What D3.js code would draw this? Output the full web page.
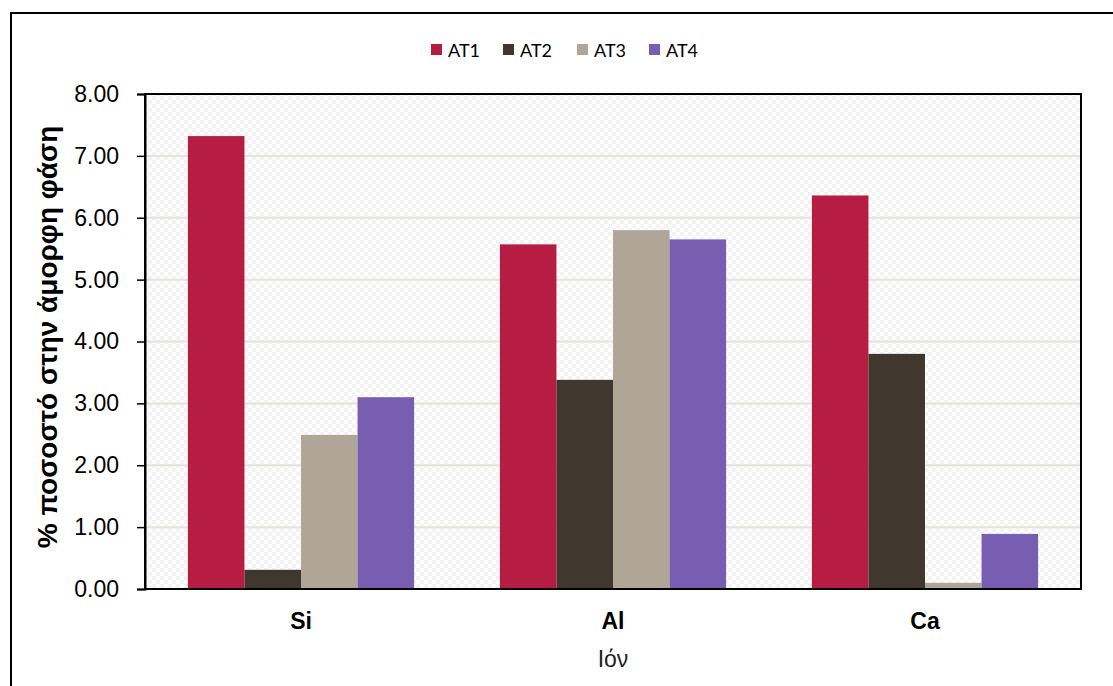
<!DOCTYPE html>
<html>
<head>
<meta charset="utf-8">
<script src="https://cdn.jsdelivr.net/npm/d3@7"></script>
<style>
  html, body { margin: 0; padding: 0; background: #fff; }
  svg { display: block; }
</style>
</head>
<body>
<svg id="chart" width="1113" height="686"></svg>
<script>
// Ions on the x axis and the amorphous-phase percentage per sample
const ions = ["Si", "Al", "Ca"];
const seriesNames = ["AT1", "AT2", "AT3", "AT4"];
const AT1 = [7.32, 5.57, 6.36];
const AT2 = [0.31, 3.38, 3.80];
const AT3 = [2.49, 5.80, 0.10];
const AT4 = [3.10, 5.65, 0.89];
const yTicks = [0, 1, 2, 3, 4, 5, 6, 7, 8];
const colors = ["#b71c43", "#40382f", "#b0a698", "#775eb0"];

const seriesValues = [AT1, AT2, AT3, AT4];

const svg = d3.select("#chart");
const W = 1113, H = 686;
const m = { left: 145, top: 94, right: 1081, bottom: 589 };

// outer frame
svg.append("rect")
  .attr("x", 11).attr("y", 13)
  .attr("width", W + 20).attr("height", H + 20)
  .attr("fill", "none").attr("stroke", "#000").attr("stroke-width", 2);

// faint checker fill for the plot area
const defs = svg.append("defs");
const pat = defs.append("pattern")
  .attr("id", "checker").attr("patternUnits", "userSpaceOnUse")
  .attr("width", 8).attr("height", 8);
pat.append("rect").attr("width", 8).attr("height", 8).attr("fill", "#fdfdfd");
pat.append("rect").attr("x", 0).attr("y", 0).attr("width", 4).attr("height", 4).attr("fill", "#f3f3f3");
pat.append("rect").attr("x", 4).attr("y", 4).attr("width", 4).attr("height", 4).attr("fill", "#f3f3f3");

const x0 = d3.scaleBand().domain(ions).range([m.left, m.right]).paddingInner(0).paddingOuter(0);
const groupW = x0.bandwidth() * 0.725;
const x1 = d3.scaleBand().domain(seriesNames).range([0, groupW]).padding(0);
const y = d3.scaleLinear().domain([0, 8]).range([m.bottom, m.top]);

svg.append("rect")
  .attr("x", m.left).attr("y", m.top)
  .attr("width", m.right - m.left).attr("height", m.bottom - m.top)
  .attr("fill", "url(#checker)");

// gridlines
svg.append("g")
  .selectAll("line")
  .data(yTicks.filter(t => t > 0 && t < 8))
  .join("line")
  .attr("x1", m.left).attr("x2", m.right)
  .attr("y1", d => y(d)).attr("y2", d => y(d))
  .attr("stroke", "#e6e3dd").attr("stroke-width", 2);

// bars
const groups = svg.append("g")
  .selectAll("g")
  .data(ions)
  .join("g")
  .attr("transform", d => `translate(${x0(d) + (x0.bandwidth() - groupW) / 2},0)`);

groups.selectAll("rect")
  .data((d, i) => seriesNames.map((s, j) => ({ s, v: seriesValues[j][i], c: colors[j] })))
  .join("rect")
  .attr("x", d => x1(d.s))
  .attr("width", x1.bandwidth())
  .attr("y", d => y(d.v))
  .attr("height", d => y(0) - y(d.v))
  .attr("fill", d => d.c);

// plot border
svg.append("rect")
  .attr("x", m.left).attr("y", m.top)
  .attr("width", m.right - m.left).attr("height", m.bottom - m.top)
  .attr("fill", "none").attr("stroke", "#000").attr("stroke-width", 2);

// y axis
const yAxis = svg.append("g")
  .attr("transform", `translate(${m.left},0)`)
  .call(d3.axisLeft(y).tickValues(yTicks).tickFormat(d3.format(".2f")).tickSize(8).tickPadding(18));
yAxis.select(".domain").attr("stroke", "#000").attr("stroke-width", 2);
yAxis.selectAll(".tick line").attr("stroke", "#000").attr("stroke-width", 1.5);
yAxis.selectAll(".tick text")
  .attr("font-family", "Liberation Sans, Arial, sans-serif")
  .attr("font-size", 23).attr("fill", "#000");

// x category labels
svg.append("g")
  .selectAll("text")
  .data(ions)
  .join("text")
  .attr("x", d => x0(d) + x0.bandwidth() / 2)
  .attr("y", 629)
  .attr("text-anchor", "middle")
  .attr("font-family", "Liberation Sans, Arial, sans-serif")
  .attr("font-weight", "bold")
  .attr("font-size", 23)
  .text(d => d);

// axis titles
svg.append("text")
  .attr("x", (m.left + m.right) / 2)
  .attr("y", 667)
  .attr("text-anchor", "middle")
  .attr("font-family", "Liberation Sans, Arial, sans-serif")
  .attr("font-size", 23)
  .attr("fill", "#222")
  .text("Ιόν");

svg.append("text")
  .attr("transform", `translate(57,337) rotate(-90)`)
  .attr("text-anchor", "middle")
  .attr("font-family", "Liberation Sans, Arial, sans-serif")
  .attr("font-weight", "bold")
  .attr("font-size", 28)
  .text("% ποσοστό στην άμορφη φάση");

// legend
const legendX = [431, 503, 577, 649];
const legend = svg.append("g")
  .selectAll("g")
  .data(seriesNames)
  .join("g")
  .attr("transform", (d, i) => `translate(${legendX[i]},44)`);
legend.append("rect")
  .attr("width", 11).attr("height", 11)
  .attr("fill", (d, i) => colors[i]);
legend.append("text")
  .attr("x", 17).attr("y", 12.5)
  .attr("font-family", "Lato, Open Sans, sans-serif")
  .attr("font-size", 18)
  .attr("fill", "#000")
  .text(d => d);
</script>
</body>
</html>
